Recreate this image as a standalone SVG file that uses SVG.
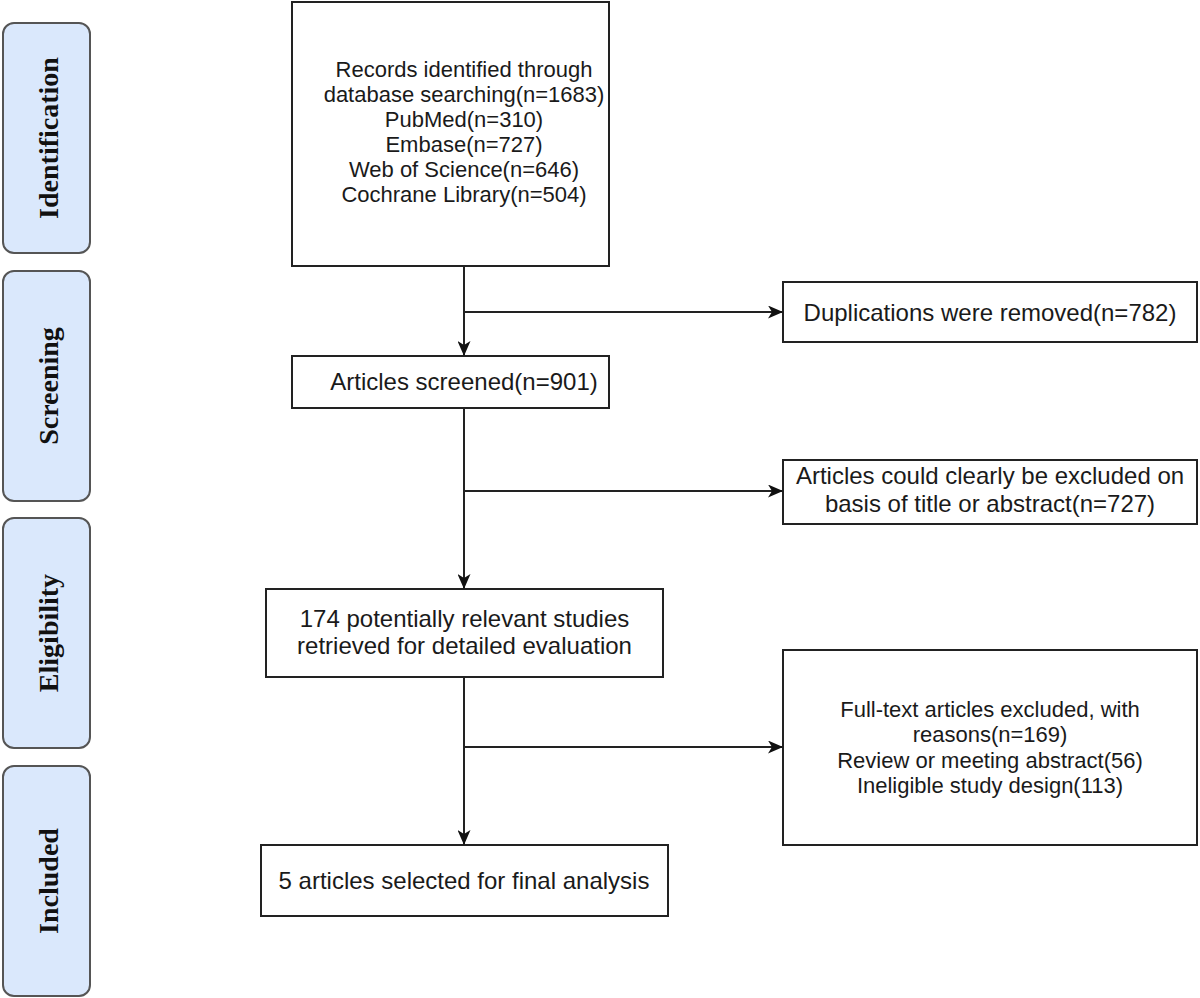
<svg xmlns="http://www.w3.org/2000/svg" width="1200" height="998" viewBox="0 0 1200 998">
<defs>
<marker id="arr" viewBox="0 0 15 13" refX="14" refY="6.5" markerWidth="15" markerHeight="13" markerUnits="userSpaceOnUse" orient="auto">
<path d="M0,0 L15,6.5 L0,13 L4,6.5 Z" fill="#111"/>
</marker>
</defs>
<style>
.stage{fill:#dae8fc;stroke:#555;stroke-width:2}
.stxt{font-family:"Liberation Serif","Times New Roman",serif;font-weight:bold;font-size:28px;fill:#111;text-anchor:middle}
.box{fill:#fff;stroke:#222;stroke-width:2}
.t{font-family:"Liberation Sans",Arial,sans-serif;fill:#1a1a1a;text-anchor:middle}
.t24{font-size:24px}
.t22{font-size:22px}
.conn{stroke:#222;stroke-width:2;fill:none}
</style>
<rect width="1200" height="998" fill="#fff"/>
<g id="stage-identification"><rect class="stage" x="3" y="23" width="87" height="230" rx="11"/><text class="stxt" transform="translate(58,138) rotate(-90)">Identification</text></g>
<g id="stage-screening"><rect class="stage" x="3" y="271" width="87" height="230" rx="11"/><text class="stxt" transform="translate(58,386) rotate(-90)">Screening</text></g>
<g id="stage-eligibility"><rect class="stage" x="3" y="518" width="87" height="230" rx="11"/><text class="stxt" transform="translate(58,633) rotate(-90)">Eligibility</text></g>
<g id="stage-included"><rect class="stage" x="3" y="766" width="87" height="230" rx="11"/><text class="stxt" transform="translate(58,881) rotate(-90)">Included</text></g>

<g id="records"><rect class="box" x="292" y="2" width="317" height="264"/>
<text class="t t22" x="464" y="77">Records identified through</text>
<text class="t t22" x="464" y="102">database searching(n=1683)</text>
<text class="t t22" x="464" y="127">PubMed(n=310)</text>
<text class="t t22" x="464" y="152">Embase(n=727)</text>
<text class="t t22" x="464" y="177">Web of Science(n=646)</text>
<text class="t t22" x="464" y="202">Cochrane Library(n=504)</text></g>
<g id="duplications"><rect class="box" x="783" y="282" width="414" height="60"/>
<text class="t t24" x="990" y="321">Duplications were removed(n=782)</text></g>
<g id="screened"><rect class="box" x="292" y="356" width="317" height="52"/>
<text class="t t24" x="464" y="390">Articles screened(n=901)</text></g>
<g id="excluded-title"><rect class="box" x="783" y="460" width="414" height="64"/>
<text class="t t24" x="990" y="484">Articles could clearly be excluded on</text>
<text class="t t24" x="990" y="512">basis of title or abstract(n=727)</text></g>
<g id="retrieved"><rect class="box" x="266" y="589" width="397" height="88"/>
<text class="t t24" x="464.5" y="627">174 potentially relevant studies</text>
<text class="t t24" x="464.5" y="654">retrieved for detailed evaluation</text></g>
<g id="excluded-fulltext"><rect class="box" x="783" y="650" width="414" height="195"/>
<text class="t t22" x="990" y="717">Full-text articles excluded, with</text>
<text class="t t22" x="990" y="742">reasons(n=169)</text>
<text class="t t22" x="990" y="768">Review or meeting abstract(56)</text>
<text class="t t22" x="990" y="793">Ineligible study design(113)</text></g>
<g id="final"><rect class="box" x="261" y="845" width="407" height="71"/>
<text class="t t24" x="464" y="889">5 articles selected for final analysis</text></g>

<g id="connectors">
<line class="conn" x1="464" y1="266" x2="464" y2="355" marker-end="url(#arr)"/>
<line class="conn" x1="464" y1="312" x2="782" y2="312" marker-end="url(#arr)"/>
<line class="conn" x1="464" y1="408" x2="464" y2="588" marker-end="url(#arr)"/>
<line class="conn" x1="464" y1="491" x2="782" y2="491" marker-end="url(#arr)"/>
<line class="conn" x1="464" y1="677" x2="464" y2="844" marker-end="url(#arr)"/>
<line class="conn" x1="464" y1="747" x2="782" y2="747" marker-end="url(#arr)"/>
</g>
</svg>
